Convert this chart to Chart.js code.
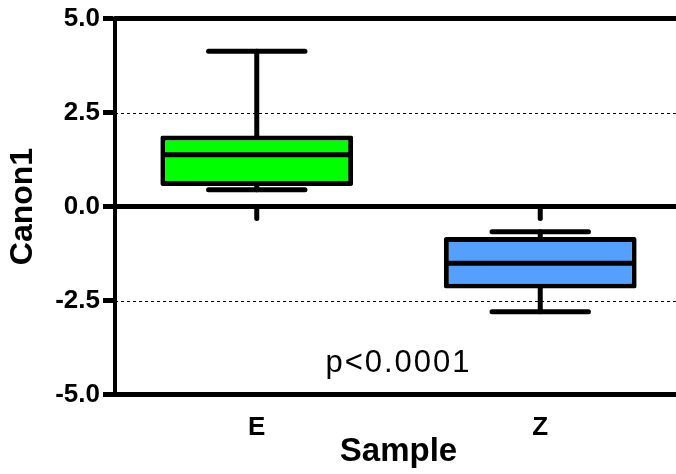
<!DOCTYPE html>
<html>
<head>
<meta charset="utf-8">
<script src="https://cdn.jsdelivr.net/npm/chart.js@4"></script>
<style>
  html, body { margin: 0; padding: 0; background: #fff; overflow: hidden; }
</style>
</head>
<body>
<canvas id="canon" width="682" height="474"></canvas>
<script>
const samples = ['E', 'Z'];
const whiskerLow = [0.45, -2.80];
const q1 = [0.55, -2.18];
const median = [1.38, -1.51];
const q3 = [1.89, -0.81];
const whiskerHigh = [4.13, -0.67];
const boxColors = ['#00FF00', '#55A0FF'];
const yTicks = [-5, -2.5, 0, 2.5, 5];
const dashedAt = [2.5, -2.5];
const solidAt = [5, 0, -5];
const note = 'p<0.0001';

const FONT = "'Liberation Sans', Arial, sans-serif";

function seg(ctx, x1, y1, x2, y2) {
  ctx.beginPath();
  ctx.moveTo(x1, y1);
  ctx.lineTo(x2, y2);
  ctx.stroke();
}

const boxPlot = {
  id: 'boxPlot',
  beforeDatasetsDraw(chart) {
    const { ctx, chartArea: a, scales: { x, y } } = chart;
    const bars = chart.getDatasetMeta(0).data;
    ctx.save();
    ctx.strokeStyle = '#000';
    // dashed reference lines
    ctx.lineWidth = 1;
    ctx.setLineDash([3, 3]);
    dashedAt.forEach(v => {
      const py = Math.round(y.getPixelForValue(v)) + 0.5;
      seg(ctx, a.left, py, a.right, py);
    });
    ctx.setLineDash([]);
    // frame lines at 5, 0, -5
    ctx.lineWidth = 5;
    ctx.lineCap = 'round';
    solidAt.forEach(v => {
      const py = y.getPixelForValue(v);
      seg(ctx, a.left, py, a.right + 10, py);
    });
    // category ticks on the zero line
    const zy = y.getPixelForValue(0);
    samples.forEach((s, i) => {
      const px = x.getPixelForValue(i);
      seg(ctx, px, zy, px, zy + 12);
    });
    // whiskers
    ctx.lineWidth = 5;
    samples.forEach((s, i) => {
      const px = x.getPixelForValue(i);
      const half = bars[i].width / 4;
      const lo = y.getPixelForValue(whiskerLow[i]);
      const hi = y.getPixelForValue(whiskerHigh[i]);
      seg(ctx, px, lo, px, y.getPixelForValue(q1[i]));
      seg(ctx, px, hi, px, y.getPixelForValue(q3[i]));
      seg(ctx, px - half, lo, px + half, lo);
      seg(ctx, px - half, hi, px + half, hi);
    });
    ctx.restore();
  },
  afterDatasetsDraw(chart) {
    const { ctx, chartArea: a, scales: { x, y } } = chart;
    const bars = chart.getDatasetMeta(0).data;
    ctx.save();
    ctx.strokeStyle = '#000';
    ctx.lineWidth = 5;
    samples.forEach((s, i) => {
      const px = x.getPixelForValue(i);
      const half = bars[i].width / 2 - 2;
      const py = y.getPixelForValue(median[i]);
      seg(ctx, px - half, py, px + half, py);
    });
    // p value
    ctx.fillStyle = '#000';
    ctx.font = '31px ' + FONT;
    ctx.letterSpacing = '2px';
    ctx.textAlign = 'center';
    ctx.textBaseline = 'alphabetic';
    const mid = (x.getPixelForValue(0) + x.getPixelForValue(1)) / 2;
    ctx.fillText(note, mid, y.getPixelForValue(-4.4));
    ctx.restore();
  }
};

new Chart('canon', {
  type: 'bar',
  data: {
    labels: samples,
    datasets: [{
      data: samples.map((s, i) => [q1[i], q3[i]]),
      backgroundColor: boxColors,
      borderColor: '#000',
      borderWidth: 5,
      borderSkipped: false,
      borderRadius: 2,
      barPercentage: 0.68,
      categoryPercentage: 1
    }]
  },
  options: {
    responsive: false,
    animation: false,
    layout: { padding: { top: 17.5, right: 0, bottom: 0, left: 0 } },
    plugins: { legend: { display: false }, tooltip: { enabled: false } },
    scales: {
      x: {
        grid: { display: false, drawTicks: false },
        border: { display: false },
        ticks: { color: '#000', padding: 18, font: { family: FONT, size: 26, weight: 'bold' } },
        title: {
          display: true, text: 'Sample', color: '#000',
          padding: { top: 0, bottom: 2 },
          font: { family: FONT, size: 33, weight: 'bold' }
        },
        afterFit(scale) { scale.height = 79.5; }
      },
      y: {
        min: -5,
        max: 5,
        afterBuildTicks(scale) { scale.ticks = yTicks.map(v => ({ value: v })); },
        grid: { drawOnChartArea: false, color: '#000', tickLength: 12, lineWidth: 5 },
        border: { display: true, color: '#000', width: 4 },
        ticks: {
          color: '#000', padding: 3,
          font: { family: FONT, size: 26, weight: 'bold' },
          callback: v => v.toFixed(1)
        },
        title: {
          display: true, text: 'Canon1', color: '#000',
          padding: 4,
          font: { family: FONT, size: 32, weight: 'bold' }
        },
        afterFit(scale) { scale.width = 115; }
      }
    }
  },
  plugins: [boxPlot]
});
</script>
</body>
</html>
